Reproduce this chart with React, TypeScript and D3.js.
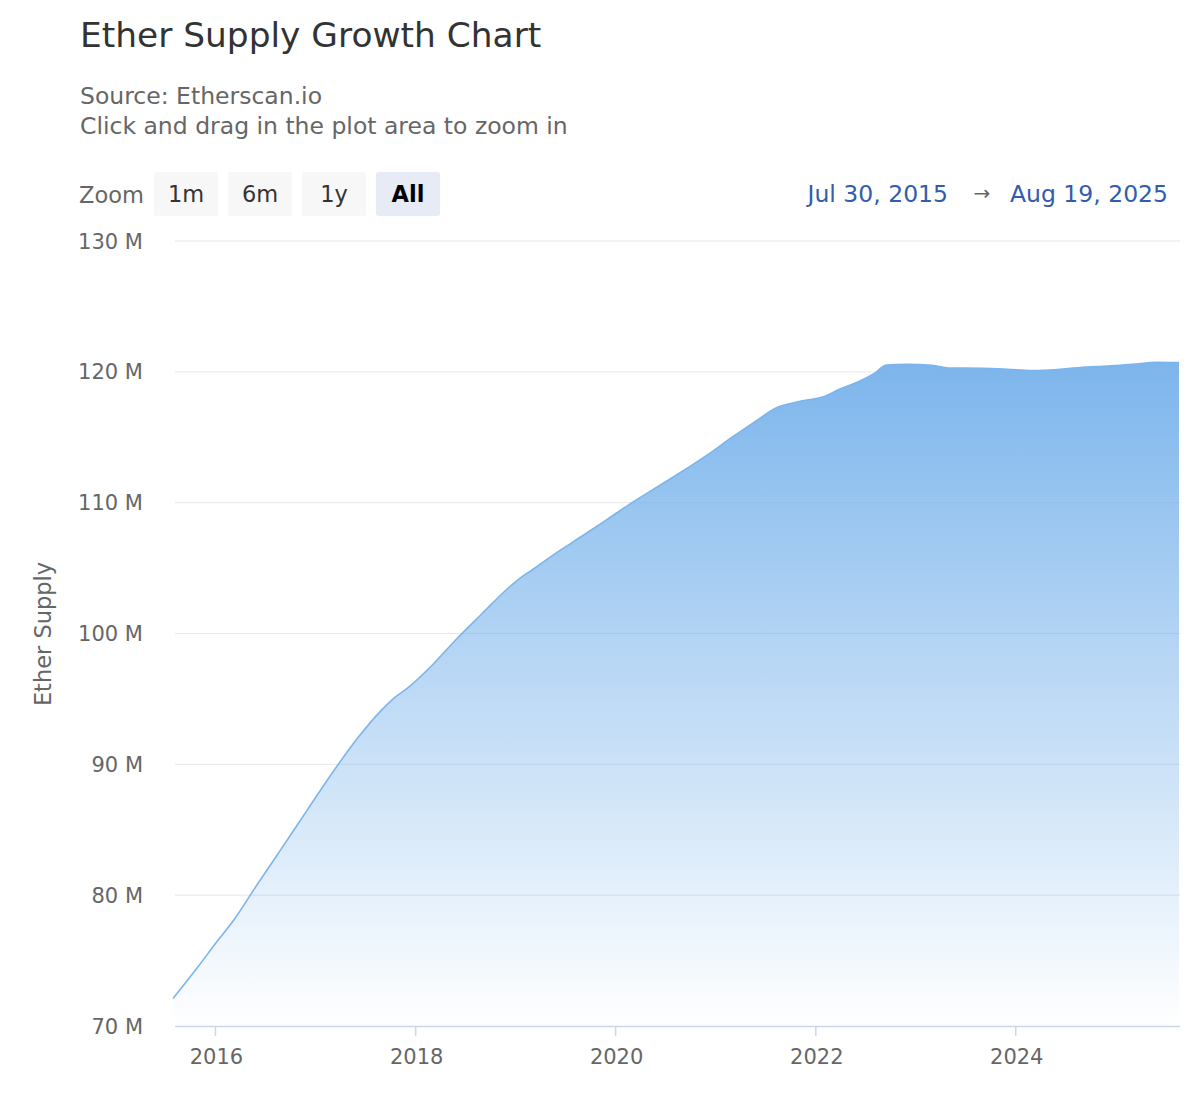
import React from "react";
import * as d3 from "d3";

// supply readings (millions of ETH)
const dates = [
  "2015-07-30", "2015-11-01", "2016-01-01", "2016-03-08", "2016-06-01",
  "2016-09-01", "2016-12-01", "2017-03-01", "2017-06-01", "2017-09-01",
  "2017-10-16", "2017-12-01", "2018-03-01", "2018-06-01", "2018-09-01",
  "2018-12-01", "2019-01-15", "2019-03-01", "2019-06-01", "2019-09-01",
  "2019-12-01", "2020-03-01", "2020-06-01", "2020-09-01", "2020-12-01",
  "2021-03-01", "2021-06-01", "2021-08-05", "2021-09-01", "2021-11-01",
  "2022-01-01", "2022-02-01", "2022-04-01", "2022-06-01", "2022-08-01",
  "2022-09-15", "2022-12-01", "2023-03-01", "2023-05-01", "2023-09-01",
  "2023-12-01", "2024-03-01", "2024-06-01", "2024-09-01", "2024-12-01",
  "2025-03-01", "2025-06-01", "2025-08-19",
];
const supply = [
  72.1, 74.6, 76.3, 78.1, 80.8,
  83.65, 86.5, 89.3, 91.95, 94.2,
  95.1, 95.8, 97.55, 99.62, 101.53,
  103.4, 104.2, 104.85, 106.2, 107.45,
  108.72, 110.0, 111.2, 112.4, 113.65,
  115.0, 116.3, 117.2, 117.42, 117.73,
  117.96, 118.12, 118.7, 119.2, 119.85,
  120.52, 120.57, 120.5, 120.29, 120.27,
  120.2, 120.1, 120.18, 120.35, 120.44,
  120.58, 120.73, 120.7,
];

const yTicks = [70, 80, 90, 100, 110, 120, 130];
const xTickYears = [2016, 2018, 2020, 2022, 2024];
const zoomButtons = ["1m", "6m", "1y", "All"];
const rangeFrom = "Jul 30, 2015";
const rangeTo = "Aug 19, 2025";

const color = "#7cb5ec";
const font = "'DejaVu Sans', sans-serif";

const App: React.FC = () => {
  const parse = d3.timeParse("%Y-%m-%d");
  const data = dates.map((d, i) => ({ date: parse(d)!, value: supply[i] }));

  const x = d3
    .scaleTime()
    .domain([data[0].date, data[data.length - 1].date])
    .range([173, 1179]);
  const y = d3.scaleLinear().domain([70, 130]).range([1026, 241]);

  const area = d3
    .area<{ date: Date; value: number }>()
    .x((d) => x(d.date))
    .y0(y(70))
    .y1((d) => y(d.value))
    .curve(d3.curveMonotoneX);
  const line = d3
    .line<{ date: Date; value: number }>()
    .x((d) => x(d.date))
    .y((d) => y(d.value))
    .curve(d3.curveMonotoneX);

  return (
    <svg
      width={1200}
      height={1100}
      style={{ position: "absolute", left: 0, top: 0, fontFamily: font }}
    >
      <defs>
        <linearGradient id="supplyFill" x1="0" y1="0" x2="0" y2="1">
          <stop offset="0" stopColor={color} stopOpacity={1} />
          <stop offset="1" stopColor={color} stopOpacity={0} />
        </linearGradient>
      </defs>
      <rect width={1200} height={1100} fill="#fff" />

      <text x={80} y={47} fontSize={34.4} fill="#333">
        Ether Supply Growth Chart
      </text>
      <text x={80} y={104} fontSize={23.5} fill="#666">
        Source: Etherscan.io
      </text>
      <text x={80} y={134} fontSize={23.5} fill="#666">
        Click and drag in the plot area to zoom in
      </text>

      <text x={79} y={203} fontSize={22.5} fill="#666">
        Zoom
      </text>
      {zoomButtons.map((b, i) => {
        const bx = 154 + i * 74;
        const sel = b === "All";
        return (
          <g key={b}>
            <rect x={bx} y={172} width={64} height={44} rx={3} fill={sel ? "#e6ebf5" : "#f7f7f7"} />
            <text
              x={bx + 32}
              y={202}
              textAnchor="middle"
              fontSize={22.5}
              fontWeight={sel ? "bold" : "normal"}
              fill={sel ? "#000" : "#333"}
            >
              {b}
            </text>
          </g>
        );
      })}

      <text x={948} y={202} textAnchor="end" fontSize={23.5} fill="#335cad">
        {rangeFrom}
      </text>
      <text x={982} y={200} textAnchor="middle" fontSize={20} fill="#666">
        →
      </text>
      <text x={1168} y={202} textAnchor="end" fontSize={23.5} fill="#335cad">
        {rangeTo}
      </text>

      {yTicks.map((t) => (
        <g key={t}>
          {t !== 70 && (
            <line x1={175} x2={1180} y1={y(t)} y2={y(t)} stroke="#e6e6e6" strokeWidth={1} />
          )}
          <text x={143} y={y(t) + 7.5} textAnchor="end" fontSize={21} fill="#666">
            {`${t} M`}
          </text>
        </g>
      ))}

      <path d={area(data)!} fill="url(#supplyFill)" />
      <path d={line(data)!} fill="none" stroke={color} strokeWidth={1.6} />

      <line x1={175} x2={1180} y1={1026.5} y2={1026.5} stroke="#ccd6eb" strokeWidth={1.5} />
      {xTickYears.map((yr) => {
        const tx = x(new Date(yr, 0, 1));
        return (
          <g key={yr}>
            <line x1={tx} x2={tx} y1={1026} y2={1036} stroke="#ccd6eb" strokeWidth={1.5} />
            <text x={tx + 1} y={1064} textAnchor="middle" fontSize={21} fill="#666">
              {yr}
            </text>
          </g>
        );
      })}

      <text
        transform="translate(51,634) rotate(-90)"
        textAnchor="middle"
        fontSize={22.5}
        fill="#666"
      >
        Ether Supply
      </text>
    </svg>
  );
};

export default App;
